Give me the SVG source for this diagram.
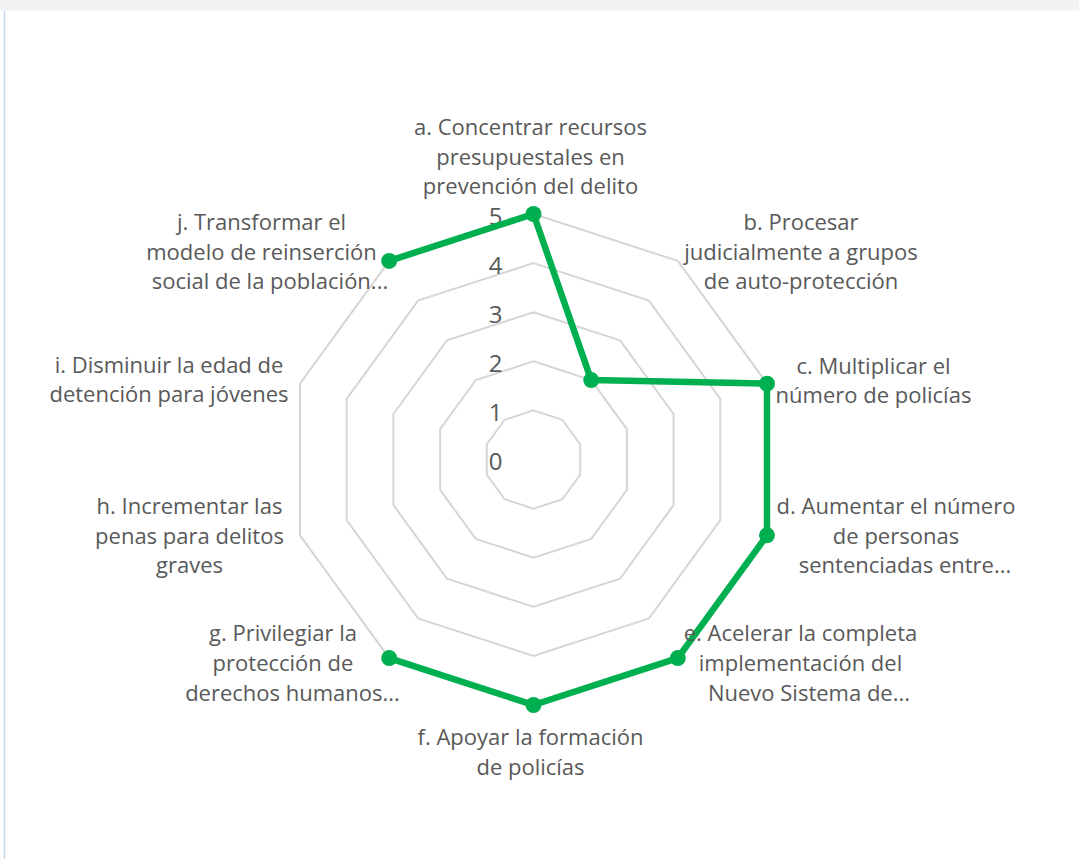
<svg xmlns="http://www.w3.org/2000/svg" width="1079" height="859" viewBox="0 0 1079 859">
<style>
.grid{fill:none;stroke:#d6d6d6;stroke-width:2;stroke-linejoin:miter}
.lbl{font-family:"Open Sans","Noto Sans","Liberation Sans",sans-serif;font-size:22px;fill:#595959;text-anchor:middle}
.num{font-family:"Open Sans","Noto Sans","Liberation Sans",sans-serif;font-size:24px;fill:#595959;text-anchor:end}
.series{fill:none;stroke:#00b050;stroke-width:6.5;stroke-linejoin:round;stroke-linecap:round}
.dot{fill:#00b050}
</style>
<rect x="0" y="0" width="1079" height="859" fill="#ffffff"/>
<rect x="0" y="0" width="1079" height="10.5" fill="#f1f2f2"/>
<line x1="4.5" y1="10.5" x2="4.5" y2="859" stroke="#c9d6ea" stroke-width="1.5"/>

<g id="gridlines">
<polygon class="grid" points="533.5,410.4 562.36,419.78 580.2,444.33 580.2,474.67 562.36,499.22 533.5,508.6 504.64,499.22 486.8,474.67 486.8,444.33 504.64,419.78"/>
<polygon class="grid" points="533.5,361.3 591.22,380.06 626.89,429.15 626.89,489.85 591.22,538.94 533.5,557.7 475.78,538.94 440.11,489.85 440.11,429.15 475.78,380.06"/>
<polygon class="grid" points="533.5,312.2 620.08,340.33 673.59,413.98 673.59,505.02 620.08,578.67 533.5,606.8 446.92,578.67 393.41,505.02 393.41,413.98 446.92,340.33"/>
<polygon class="grid" points="533.5,263.1 648.94,300.61 720.29,398.81 720.29,520.19 648.94,618.39 533.5,655.9 418.06,618.39 346.71,520.19 346.71,398.81 418.06,300.61"/>
<polygon class="grid" points="533.5,214 677.8,260.89 766.98,383.64 766.98,535.36 677.8,658.11 533.5,705 389.2,658.11 300.02,535.36 300.02,383.64 389.2,260.89"/>
</g>

<g id="axis-values">
<text class="num" x="502.5" y="224.5">5</text>
<text class="num" x="502.5" y="274">4</text>
<text class="num" x="502.5" y="323">3</text>
<text class="num" x="502.5" y="372">2</text>
<text class="num" x="502.5" y="421">1</text>
<text class="num" x="502.5" y="470">0</text>
</g>

<g id="connectors">
<polyline class="series" points="389.2,260.89 533.5,214 591.22,380.06 766.98,383.64 766.98,535.36 677.8,658.11 533.5,705 389.2,658.11"/>
</g>

<g id="markers">
<circle class="dot" cx="389.2" cy="260.89" r="8"/>
<circle class="dot" cx="533.5" cy="214" r="8"/>
<circle class="dot" cx="591.22" cy="380.06" r="8"/>
<circle class="dot" cx="766.98" cy="383.64" r="8"/>
<circle class="dot" cx="766.98" cy="535.36" r="8"/>
<circle class="dot" cx="677.8" cy="658.11" r="8"/>
<circle class="dot" cx="533.5" cy="705" r="8"/>
<circle class="dot" cx="389.2" cy="658.11" r="8"/>
</g>

<g id="node-a">
<text class="lbl" x="530.5" y="135">a. Concentrar recursos</text>
<text class="lbl" x="530.5" y="164.5">presupuestales en</text>
<text class="lbl" x="530.5" y="194">prevención del delito</text>
</g>
<g id="node-b">
<text class="lbl" x="801" y="230">b. Procesar</text>
<text class="lbl" x="801" y="259.5">judicialmente a grupos</text>
<text class="lbl" x="801" y="289">de auto-protección</text>
</g>
<g id="node-c">
<text class="lbl" x="873.5" y="373.5">c. Multiplicar el</text>
<text class="lbl" x="873.5" y="403">número de policías</text>
</g>
<g id="node-d">
<text class="lbl" x="896" y="514">d. Aumentar el número</text>
<text class="lbl" x="896" y="543.5">de personas</text>
<text class="lbl" x="905" y="573">sentenciadas entre...</text>
</g>
<g id="node-e">
<text class="lbl" x="800.5" y="641">e. Acelerar la completa</text>
<text class="lbl" x="800.5" y="671">implementación del</text>
<text class="lbl" x="809" y="700.5">Nuevo Sistema de...</text>
</g>
<g id="node-f">
<text class="lbl" x="530.5" y="745">f. Apoyar la formación</text>
<text class="lbl" x="530.5" y="774.5">de policías</text>
</g>
<g id="node-g">
<text class="lbl" x="283" y="641">g. Privilegiar la</text>
<text class="lbl" x="283" y="671">protección de</text>
<text class="lbl" x="292.5" y="700.5">derechos humanos...</text>
</g>
<g id="node-h">
<text class="lbl" x="189.5" y="514">h. Incrementar las</text>
<text class="lbl" x="189.5" y="543.5">penas para delitos</text>
<text class="lbl" x="189.5" y="573">graves</text>
</g>
<g id="node-i">
<text class="lbl" x="169" y="373">i. Disminuir la edad de</text>
<text class="lbl" x="169" y="402">detención para jóvenes</text>
</g>
<g id="node-j">
<text class="lbl" x="261.5" y="230">j. Transformar el</text>
<text class="lbl" x="261.5" y="259.5">modelo de reinserción</text>
<text class="lbl" x="270" y="289">social de la población...</text>
</g>
</svg>
